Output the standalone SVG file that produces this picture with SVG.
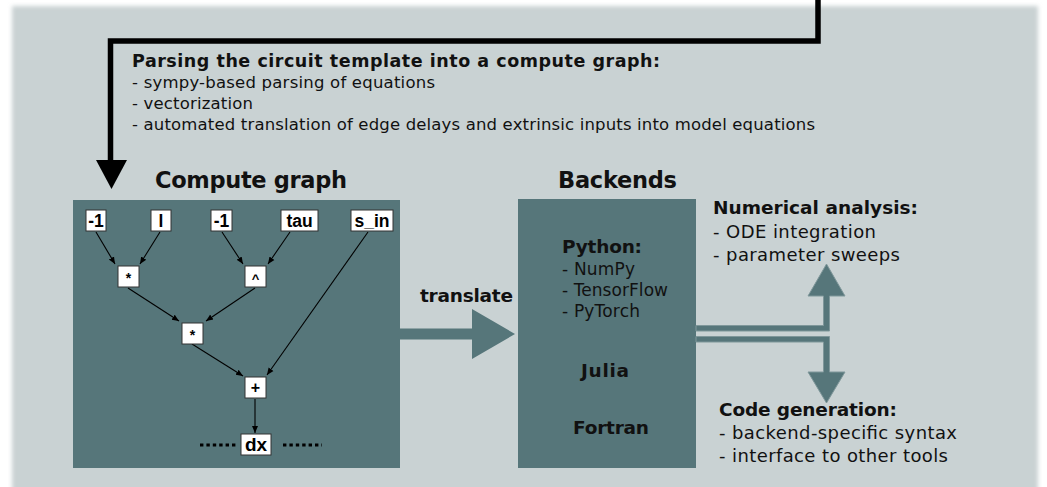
<svg xmlns="http://www.w3.org/2000/svg" width="1047" height="487" viewBox="0 0 1047 487">
  <defs>
    <filter id="soft" x="-5%" y="-5%" width="110%" height="110%">
      <feGaussianBlur stdDeviation="2"/>
    </filter>
    <marker id="ah" markerWidth="8" markerHeight="8" refX="7" refY="4" orient="auto" markerUnits="userSpaceOnUse">
      <path d="M0,1 L7,4 L0,7 Z" fill="#000"/>
    </marker>
    <style>
      .t { font-family: "DejaVu Sans", Verdana, sans-serif; fill: #111; }
      .b { font-weight: bold; }
      .panel { fill: #56767a; }
      .node rect { fill: #fff; stroke: #333; stroke-width: 1; }
      .node text { font-family: "Liberation Sans", Arial, sans-serif; font-weight: bold; fill: #000; text-anchor: middle; }
      .edge { stroke: #000; stroke-width: 1.1; fill: none; marker-end: url(#ah); }
      .flow { fill: #56767a; stroke: #7f979a; stroke-width: 1; }
    </style>
  </defs>

  <rect x="12" y="6" width="1026" height="490" fill="#c9d2d3" filter="url(#soft)"/>

  <!-- big black arrow -->
  <g id="input-arrow">
    <path d="M818,0 L818,41 L110.5,41 L110.5,162" fill="none" stroke="#000" stroke-width="5.5"/>
    <polygon points="96,160 127,160 111.5,189" fill="#000"/>
  </g>

  <g id="parsing-text">
    <text class="t b" x="132" y="67" font-size="17.5" textLength="528" lengthAdjust="spacing">Parsing the circuit template into a compute graph:</text>
    <text class="t" x="132" y="88" font-size="16.5" textLength="303" lengthAdjust="spacing">- sympy-based parsing of equations</text>
    <text class="t" x="132" y="109" font-size="16.5" textLength="121" lengthAdjust="spacing">- vectorization</text>
    <text class="t" x="132" y="130" font-size="16.5" textLength="683" lengthAdjust="spacing">- automated translation of edge delays and extrinsic inputs into model equations</text>
  </g>

  <!-- Compute graph panel -->
  <g id="compute-graph">
    <text class="t b" x="155" y="188" font-size="22.5" textLength="192" lengthAdjust="spacing">Compute graph</text>
    <rect class="panel" x="73" y="200" width="327" height="268"/>
  </g>

  <g id="connectors">
    <line class="edge" x1="96" y1="232" x2="115" y2="264"/>
    <line class="edge" x1="160" y1="232" x2="140" y2="264"/>
    <line class="edge" x1="222" y1="232" x2="243" y2="264"/>
    <line class="edge" x1="290" y1="232" x2="268" y2="264"/>
    <line class="edge" x1="368" y1="232" x2="267" y2="375"/>
    <line class="edge" x1="128" y1="288" x2="179" y2="321"/>
    <line class="edge" x1="255" y1="288" x2="206" y2="321"/>
    <line class="edge" x1="192" y1="344" x2="243" y2="376"/>
    <line class="edge" x1="255" y1="399" x2="255" y2="433"/>
    <line x1="200" y1="445" x2="238" y2="445" stroke="#000" stroke-width="3.2" stroke-dasharray="3.4 3"/>
    <line x1="283" y1="445" x2="322" y2="445" stroke="#000" stroke-width="3.2" stroke-dasharray="3.4 3"/>
  </g>

  <g id="n-neg1a" class="node"><rect x="86" y="210" width="20" height="21"/><text x="96" y="227" font-size="17.5">-1</text></g>
  <g id="n-l" class="node"><rect x="151" y="210" width="20" height="21"/><text x="161" y="227" font-size="17.5">l</text></g>
  <g id="n-neg1b" class="node"><rect x="211" y="210" width="21" height="21"/><text x="221.5" y="227" font-size="17.5">-1</text></g>
  <g id="n-tau" class="node"><rect x="281" y="210" width="37" height="21"/><text x="299.5" y="227" font-size="17.5">tau</text></g>
  <g id="n-sin" class="node"><rect x="351" y="210" width="42" height="21"/><text x="372" y="227" font-size="17.5">s_in</text></g>
  <g id="n-mul1" class="node"><rect x="118" y="266" width="21" height="21"/><text x="128.5" y="283" font-size="14">*</text></g>
  <g id="n-pow" class="node"><rect x="245" y="266" width="21" height="21"/><text x="255.5" y="283" font-size="13">^</text></g>
  <g id="n-mul2" class="node"><rect x="182" y="323" width="21" height="21"/><text x="192.5" y="340" font-size="14">*</text></g>
  <g id="n-plus" class="node"><rect x="245" y="377" width="21" height="21"/><text x="255.5" y="393" font-size="16">+</text></g>
  <g id="n-dx" class="node"><rect x="241" y="434" width="30" height="21"/><text x="256" y="451" font-size="19">dx</text></g>

  <!-- translate arrow -->
  <g id="translate">
    <text class="t b" x="420" y="302" font-size="18.5" textLength="93" lengthAdjust="spacing">translate</text>
    <polygon points="400,328.5 472,328.5 472,309 515,334 472,359 472,339.5 400,339.5" fill="#56767a"/>
  </g>

  <!-- Backends -->
  <g id="backends">
    <text class="t b" x="558" y="188" font-size="22.5" textLength="119" lengthAdjust="spacing">Backends</text>
    <rect class="panel" x="518" y="199" width="178" height="269"/>
    <text class="t b" x="562" y="253" font-size="18.5" textLength="80" lengthAdjust="spacing">Python:</text>
    <text class="t" x="562" y="275" font-size="17" textLength="73" lengthAdjust="spacing">- NumPy</text>
    <text class="t" x="562" y="296" font-size="17" textLength="106" lengthAdjust="spacing">- TensorFlow</text>
    <text class="t" x="562" y="317" font-size="17" textLength="78" lengthAdjust="spacing">- PyTorch</text>
    <text class="t b" x="581" y="377" font-size="18.5" textLength="48" lengthAdjust="spacing">Julia</text>
    <text class="t b" x="573" y="434" font-size="18.5" textLength="76" lengthAdjust="spacing">Fortran</text>
  </g>

  <!-- output arrows -->
  <g id="outputs">
    <polygon class="flow" points="696,325.5 823.5,325.5 823.5,296 808,296 826.5,264 845,296 829.5,296 829.5,331 696,331"/>
    <polygon class="flow" points="696,336.5 829.5,336.5 829.5,372 845,372 826.5,403 808,372 823.5,372 823.5,342 696,342"/>
  </g>

  <g id="numerical">
    <text class="t b" x="713" y="214" font-size="18.5" textLength="205" lengthAdjust="spacing">Numerical analysis:</text>
    <text class="t" x="713" y="238" font-size="18" textLength="163" lengthAdjust="spacing">- ODE integration</text>
    <text class="t" x="713" y="261" font-size="18" textLength="187" lengthAdjust="spacing">- parameter sweeps</text>
  </g>

  <g id="codegen">
    <text class="t b" x="719" y="416" font-size="18.5" textLength="178" lengthAdjust="spacing">Code generation:</text>
    <text class="t" x="719" y="439" font-size="18" textLength="238" lengthAdjust="spacing">- backend-specific syntax</text>
    <text class="t" x="719" y="462" font-size="18" textLength="229" lengthAdjust="spacing">- interface to other tools</text>
  </g>
</svg>
